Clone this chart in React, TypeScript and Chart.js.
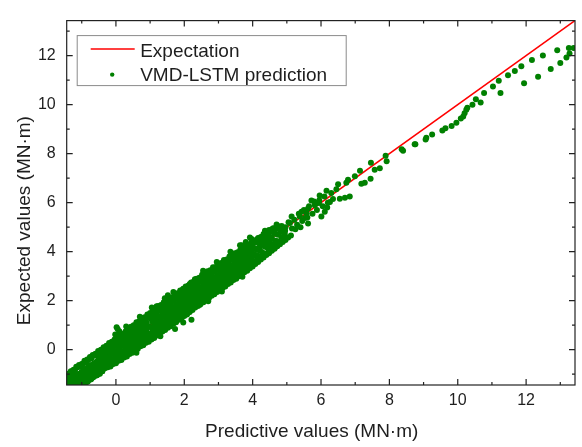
import { useEffect, useRef } from 'react';
import { Chart, registerables } from 'chart.js';
Chart.register(...registerables);

const axisMin = -1.44;
const axisMax = 13.43;
const majorTicks = [0, 2, 4, 6, 8, 10, 12];
const minorTicks = [-1, 1, 3, 5, 7, 9, 11, 13];
const xTitle = 'Predictive values (MN·m)';
const yTitle = 'Expected values (MN·m)';
const lineLabel = 'Expectation';
const pointLabel = 'VMD-LSTM prediction';

// y = x reference line end points
const expectationX = [-1.44, 13.43];
const expectationY = [-1.44, 13.43];

// [predictive, expected] pairs
const bandLow: [number, number][] = [
  [-1.44, -1.05], [-1.43, -1.10], [-1.41, -1.22], [-1.42, -1.40], [-1.40, -1.30], [-1.38, -1.42], [-1.35, -1.20],
  [-1.33, -1.35], [-1.30, -1.43], [-1.28, -1.15], [-1.25, -1.28], [-1.22, -1.40], [-1.20, -1.05], [-1.18, -1.22],
  [-1.15, -1.35], [-1.12, -1.10], [-1.10, -1.42], [-1.08, -0.98], [-1.05, -1.25], [-1.03, -1.38], [-1.00, -0.90],
  [-0.98, -1.12], [-0.96, -1.30], [-0.94, -0.85], [-0.92, -1.05], [-0.90, -1.42], [-0.88, -0.78], [-0.86, -1.18],
  [-0.84, -0.95], [-0.82, -1.30], [-0.80, -0.70], [-0.78, -1.05], [-0.76, -0.88], [-0.74, -1.22], [-0.72, -0.62],
  [-0.70, -0.98], [-0.68, -0.80], [-0.66, -1.12], [-0.64, -0.55], [-0.62, -0.92], [-0.60, -0.72], [-0.58, -1.05],
  [-0.56, -0.48], [-0.54, -0.85], [-0.52, -0.65], [-0.50, -0.98], [-0.47, -0.65], [-0.47, -0.98],
];

const bandMid: [number, number][] = [
  [-0.48, -0.40], [-0.46, -0.78], [-0.44, -0.25], [-0.42, -0.60], [-0.40, -0.88], [-0.38, -0.30], [-0.36, -0.52],
  [-0.34, -0.72], [-0.32, -0.15], [-0.30, -0.45], [-0.28, -0.65], [-0.26, -0.08], [-0.24, -0.35], [-0.22, -0.58],
  [-0.20, -0.02], [-0.18, -0.25], [-0.16, -0.48], [-0.14, 0.08], [-0.12, -0.18], [-0.10, -0.42], [-0.08, 0.15],
  [-0.06, -0.10], [-0.04, -0.35], [-0.02, 0.22], [0.00, -0.05], [0.02, -0.28], [0.04, 0.30], [0.06, 0.02],
  [0.08, -0.22], [0.10, 0.38], [0.12, 0.10], [0.14, -0.15], [0.16, 0.25], [0.18, -0.05], [0.20, 0.45],
  [0.22, 0.18], [0.24, -0.10], [0.26, 0.32], [0.28, 0.05], [0.30, 0.55], [0.32, 0.25], [0.34, 0.00],
  [0.36, 0.42], [0.38, 0.12], [0.40, 0.62], [0.42, 0.30], [0.44, 0.08], [0.46, 0.50], [0.48, 0.20],
  [0.50, 0.72], [0.52, 0.38], [0.54, 0.15], [0.56, 0.60], [0.58, 0.28], [0.60, 0.80], [0.62, 0.45],
  [0.64, 0.22], [0.66, 0.68], [0.68, 0.35], [0.70, 0.90], [0.72, 0.52], [0.74, 0.30], [0.76, 0.78],
  [0.78, 0.45], [0.80, 0.98], [0.82, 0.62], [0.84, 0.38], [0.86, 0.85], [0.88, 0.55], [0.90, 1.08],
  [0.92, 0.70], [0.94, 0.48], [0.96, 0.95], [0.98, 0.62], [0.02, 0.92], [0.05, 0.85], [-0.02, 0.62], [0.10, 0.75],
];

const bandUpper: [number, number][] = [
  [1.00, 1.28], [1.02, 0.92], [1.04, 0.65], [1.06, 1.15], [1.08, 0.82], [1.10, 1.40], [1.12, 1.00], [1.14, 0.76],
  [1.16, 1.27], [1.18, 0.90], [1.20, 1.46], [1.22, 1.13], [1.24, 0.84], [1.26, 1.36], [1.28, 1.03], [1.30, 1.60],
  [1.32, 1.20], [1.34, 0.96], [1.36, 1.44], [1.38, 1.12], [1.40, 1.70], [1.42, 1.33], [1.44, 1.04], [1.46, 1.56],
  [1.48, 1.22], [1.50, 1.77], [1.52, 1.41], [1.54, 1.16], [1.56, 1.66], [1.58, 1.31], [1.60, 1.90], [1.62, 1.52],
  [1.64, 1.24], [1.66, 1.74], [1.68, 1.43], [1.70, 1.99], [1.72, 1.61], [1.74, 1.36], [1.76, 1.86], [1.78, 1.53],
  [1.80, 2.08], [1.82, 1.73], [1.84, 1.44], [1.86, 1.96], [1.88, 1.62], [1.90, 2.19], [1.92, 1.81], [1.94, 1.56],
  [1.96, 2.05], [1.98, 1.72], [2.00, 2.29], [2.02, 1.92], [2.04, 1.63], [2.06, 2.14], [2.08, 1.83], [2.10, 2.39],
  [2.12, 2.01], [2.14, 1.76], [2.16, 2.26], [2.18, 1.92], [2.20, 2.47], [2.22, 2.12], [2.24, 1.84], [2.26, 2.36],
  [2.28, 2.03], [2.30, 2.57], [2.32, 2.21], [2.34, 1.96], [2.36, 2.44], [2.38, 2.12], [2.40, 2.68], [2.42, 2.31],
  [2.44, 2.06], [2.46, 2.55], [2.48, 2.23],
  [2.50, 2.78], [2.52, 2.42], [2.54, 2.15], [2.56, 2.65], [2.58, 2.32], [2.60, 2.88], [2.62, 2.52], [2.64, 2.25],
  [2.66, 2.75], [2.68, 2.42], [2.70, 2.98], [2.72, 2.62], [2.74, 2.35], [2.76, 2.85], [2.78, 2.52], [2.80, 3.08],
  [2.82, 2.72], [2.84, 2.45], [2.86, 2.95], [2.88, 2.62], [2.90, 3.18], [2.92, 2.82], [2.94, 2.55], [2.96, 3.05],
  [2.98, 2.72], [3.00, 3.28], [3.02, 2.92], [3.04, 2.65], [3.06, 3.15], [3.08, 2.82], [3.10, 3.38], [3.12, 3.02],
  [3.14, 2.75], [3.16, 3.25], [3.18, 2.92], [3.20, 3.48], [3.22, 3.12], [3.24, 2.85], [3.26, 3.35], [3.28, 3.02],
  [3.30, 3.58], [3.32, 3.22], [3.34, 2.95], [3.36, 3.45], [3.38, 3.12], [3.40, 3.68], [3.42, 3.32], [3.44, 3.05],
  [3.46, 3.55], [3.48, 3.22], [3.50, 3.78], [3.52, 3.42], [3.54, 3.15], [3.56, 3.65], [3.58, 3.32], [3.60, 3.88],
  [3.62, 3.52], [3.64, 3.25], [3.66, 3.75], [3.68, 3.42], [3.70, 3.98], [3.72, 3.62], [3.74, 3.35], [3.76, 3.85],
  [3.78, 3.52], [3.80, 4.05], [3.82, 3.72], [3.84, 3.45], [3.86, 3.95], [3.88, 3.62], [3.90, 4.15], [3.92, 3.82],
  [3.94, 3.55], [3.96, 4.05], [3.98, 3.72],
  [4.00, 4.25], [4.04, 3.90], [4.08, 4.12], [4.12, 3.85], [4.16, 4.35], [4.20, 4.05], [4.24, 4.30], [4.28, 3.98],
  [4.32, 4.52], [4.36, 4.20], [4.40, 4.45], [4.44, 4.15], [4.48, 4.62], [4.52, 4.32], [4.56, 4.58], [4.60, 4.30],
  [4.64, 4.75], [4.68, 4.45], [4.72, 4.70], [4.76, 4.42], [4.80, 4.88], [4.84, 4.60], [4.88, 4.82], [4.92, 4.55],
  [4.96, 5.00],
];

const bandCoreFill: [number, number][] = [
  [-1.20, -1.02], [-1.15, -1.33], [-1.10, -1.10], [-1.05, -1.37], [-1.00, -0.64], [-0.95, -1.43], [-0.90, -0.80],
  [-0.85, -0.90], [-0.80, -0.62], [-0.75, -0.93], [-0.70, -0.70], [-0.65, -0.97], [-0.60, -0.24], [-0.55, -1.03],
  [-0.50, -0.40], [-0.45, -0.50], [-0.40, -0.22], [-0.35, -0.53], [-0.30, -0.30], [-0.25, -0.57], [-0.20, 0.16],
  [-0.15, -0.63], [-0.10, 0.00], [-0.05, -0.10], [0.00, 0.18], [0.05, -0.13], [0.10, 0.10], [0.15, -0.17],
  [0.20, 0.56], [0.25, -0.23], [0.30, 0.40], [0.35, 0.30], [0.40, 0.58], [0.45, 0.27], [0.50, 0.50], [0.55, 0.23],
  [0.60, 0.96], [0.65, 0.17], [0.70, 0.80], [0.75, 0.70], [0.80, 0.98], [0.85, 0.67], [0.90, 0.90], [0.95, 0.63],
  [1.00, 1.36], [1.05, 0.57], [1.10, 1.20], [1.15, 1.10], [1.20, 1.38], [1.25, 1.07], [1.30, 1.30], [1.35, 1.03],
  [1.40, 1.76], [1.45, 0.97], [1.50, 1.60], [1.55, 1.50], [1.60, 1.78], [1.65, 1.47], [1.70, 1.70], [1.75, 1.43],
  [1.80, 2.16], [1.85, 1.37], [1.90, 2.00], [1.95, 1.90], [2.00, 2.18], [2.05, 1.87], [2.10, 2.10], [2.15, 1.83],
  [2.20, 2.56], [2.25, 1.77], [2.30, 2.40], [2.35, 2.30], [2.40, 2.58], [2.45, 2.27], [2.50, 2.50], [2.55, 2.23],
  [2.60, 2.96], [2.65, 2.17], [2.70, 2.80], [2.75, 2.70], [2.80, 2.98], [2.85, 2.67], [2.90, 2.90], [2.95, 2.63],
  [3.00, 3.36], [3.05, 2.57], [3.10, 3.20], [3.15, 3.10], [3.20, 3.38], [3.25, 3.07], [3.30, 3.30], [3.35, 3.03],
  [3.40, 3.76], [3.45, 2.97], [3.50, 3.60], [3.55, 3.50], [3.60, 3.78], [3.65, 3.47], [3.70, 3.70], [3.75, 3.43],
  [3.80, 4.16], [3.85, 3.37], [3.90, 4.00], [3.95, 3.90], [4.00, 4.18], [4.05, 3.87], [4.10, 4.10], [4.15, 3.83],
  [4.20, 4.56], [4.25, 3.77], [4.30, 4.40], [4.35, 4.30], [4.40, 4.58], [4.45, 4.27], [4.50, 4.50], [4.55, 4.23],
  [4.60, 4.96],
];

const bandTopEdge: [number, number][] = [
  [-1.40, -0.98], [-1.32, -0.88], [-1.24, -0.82], [-1.16, -0.70], [-1.08, -0.62], [-1.00, -0.58], [-0.92, -0.45],
  [-0.84, -0.40], [-0.76, -0.30], [-0.68, -0.22], [-0.60, -0.16], [-0.52, -0.05], [-0.44, 0.00], [-0.36, 0.10],
  [-0.28, 0.16], [-0.20, 0.27], [-0.12, 0.32], [-0.04, 0.42], [0.04, 0.48], [0.12, 0.58], [0.20, 0.64],
  [0.28, 0.74], [0.36, 0.82], [0.44, 0.94], [0.52, 1.00], [0.60, 1.12], [0.68, 1.16], [0.76, 1.28], [0.84, 1.32],
  [0.92, 1.44], [1.00, 1.50], [1.08, 1.62], [1.16, 1.66], [1.24, 1.78], [1.32, 1.82], [1.40, 1.94], [1.48, 1.98],
  [1.56, 2.10], [1.64, 2.14], [1.72, 2.26], [1.80, 2.30], [1.88, 2.42], [1.96, 2.46], [2.04, 2.58], [2.12, 2.62],
  [2.20, 2.74], [2.28, 2.78], [2.36, 2.90], [2.44, 2.94], [2.52, 3.06], [2.60, 3.08], [2.68, 3.20], [2.76, 3.24],
  [2.84, 3.36], [2.92, 3.38], [3.00, 3.50], [3.08, 3.54], [3.16, 3.66], [3.24, 3.68], [3.32, 3.80], [3.40, 3.84],
  [3.48, 3.94], [3.56, 3.98], [3.64, 4.08], [3.72, 4.10], [3.80, 4.22], [3.88, 4.24], [3.96, 4.36], [4.04, 4.38],
  [4.12, 4.50], [4.20, 4.52], [4.28, 4.62], [4.36, 4.66], [4.44, 4.76], [4.52, 4.80], [4.60, 4.90], [4.68, 4.94],
  [4.76, 5.04],
  [0.30, 0.95], [0.70, 1.35], [1.05, 1.72], [1.52, 2.22], [2.55, 3.22], [2.95, 3.58], [3.35, 4.00], [3.80, 4.40],
];

const bandTopFill: [number, number][] = [
  [-1.36, -1.00], [-1.28, -0.88], [-1.20, -0.84], [-1.12, -0.72], [-1.04, -0.68], [-0.96, -0.56], [-0.88, -0.52],
  [-0.80, -0.40], [-0.72, -0.36], [-0.64, -0.24], [-0.56, -0.20], [-0.48, -0.08], [-0.40, -0.04], [-0.32, 0.08],
  [-0.24, 0.12], [-0.16, 0.24], [-0.08, 0.28], [0.00, 0.40], [0.08, 0.44], [0.16, 0.56], [0.24, 0.60],
  [0.32, 0.72], [0.40, 0.76], [0.48, 0.88], [0.56, 0.92], [0.64, 1.04], [0.72, 1.08], [0.80, 1.20], [0.88, 1.24],
  [0.96, 1.36], [1.04, 1.40], [1.12, 1.52], [1.20, 1.56], [1.28, 1.68], [1.36, 1.72], [1.44, 1.84], [1.52, 1.88],
  [1.60, 2.00], [1.68, 2.04], [1.76, 2.16], [1.84, 2.20], [1.92, 2.32], [2.00, 2.36], [2.08, 2.48], [2.16, 2.52],
  [2.24, 2.64], [2.32, 2.68], [2.40, 2.80], [2.48, 2.84], [2.56, 2.96], [2.64, 3.00], [2.72, 3.12], [2.80, 3.16],
  [2.88, 3.28], [2.96, 3.32], [3.04, 3.44], [3.12, 3.48], [3.20, 3.60], [3.28, 3.64], [3.36, 3.76], [3.44, 3.80],
  [3.52, 3.92], [3.60, 3.96], [3.68, 4.08], [3.76, 4.12], [3.84, 4.24], [3.92, 4.28], [4.00, 4.40], [4.08, 4.44],
  [4.16, 4.56], [4.24, 4.60], [4.32, 4.72], [4.40, 4.76], [4.48, 4.88], [4.56, 4.92],
];

const bandBottomEdge: [number, number][] = [
  [-1.20, -1.44], [-1.12, -1.38], [-1.04, -1.33], [-0.96, -1.22], [-0.88, -1.16], [-0.80, -1.08], [-0.72, -1.02],
  [-0.64, -0.92], [-0.56, -0.86], [-0.48, -0.78], [-0.40, -0.72], [-0.32, -0.62], [-0.24, -0.56], [-0.16, -0.68],
  [-0.08, -0.58], [0.00, -0.55], [0.08, -0.45], [0.16, -0.42], [0.24, -0.32], [0.32, -0.28], [0.40, -0.18],
  [0.48, -0.12], [0.56, -0.02], [0.64, 0.04], [0.72, 0.14], [0.80, 0.18], [0.88, 0.28], [0.96, 0.32],
  [1.04, 0.42], [1.12, 0.48], [1.20, 0.58], [1.28, 0.64], [1.36, 0.74], [1.44, 0.80], [1.52, 0.90], [1.60, 0.96],
  [1.68, 1.06], [1.76, 1.12], [1.84, 1.22], [1.92, 1.28], [2.00, 1.38], [2.08, 1.44], [2.16, 1.54], [2.24, 1.62],
  [2.32, 1.72], [2.40, 1.78], [2.48, 1.88], [2.56, 1.94], [2.64, 2.04], [2.72, 2.10], [2.80, 2.20], [2.88, 2.26],
  [2.96, 2.36], [3.04, 2.42], [3.12, 2.52], [3.20, 2.58], [3.28, 2.68], [3.36, 2.74], [3.44, 2.84], [3.52, 2.90],
  [3.60, 3.00], [3.68, 3.06], [3.76, 3.16], [3.84, 3.22], [3.92, 3.32], [4.00, 3.40], [4.08, 3.50], [4.16, 3.58],
  [4.24, 3.68], [4.32, 3.76], [4.40, 3.86], [4.48, 3.94], [4.56, 4.04], [4.64, 4.12], [4.72, 4.22], [4.80, 4.30],
  [4.88, 4.40], [4.96, 4.48], [5.04, 4.58], [5.12, 4.66],
  [0.60, -0.12], [1.30, 0.55], [2.70, 1.98], [3.10, 2.38], [3.70, 2.98],
];

const bandBottomFill: [number, number][] = [
  [-0.96, -1.40], [-0.88, -1.36], [-0.80, -1.24], [-0.72, -1.20], [-0.64, -1.08], [-0.56, -1.04], [-0.48, -0.92],
  [-0.40, -0.88], [-0.32, -0.76], [-0.24, -0.72], [-0.16, -0.60], [-0.08, -0.56], [0.00, -0.44], [0.04, -0.44],
  [0.12, -0.36], [0.20, -0.28], [0.28, -0.20], [0.36, -0.12], [0.44, -0.04], [0.52, 0.04], [0.60, 0.12],
  [0.68, 0.20], [0.76, 0.28], [0.84, 0.36], [0.92, 0.44], [1.00, 0.52], [1.08, 0.60], [1.16, 0.68], [1.24, 0.76],
  [1.32, 0.84], [1.40, 0.92], [1.48, 1.00], [1.56, 1.08], [1.64, 1.16], [1.72, 1.24], [1.80, 1.32], [1.88, 1.40],
  [1.96, 1.48], [2.04, 1.56], [2.12, 1.64], [2.20, 1.72], [2.28, 1.80], [2.36, 1.88], [2.44, 1.96], [2.52, 2.04],
  [2.60, 2.12], [2.68, 2.20], [2.76, 2.28], [2.84, 2.36], [2.92, 2.44], [3.00, 2.52], [3.08, 2.60], [3.16, 2.68],
  [3.24, 2.76], [3.32, 2.84], [3.40, 2.92], [3.48, 3.00], [3.56, 3.08], [3.64, 3.16], [3.72, 3.24], [3.80, 3.32],
  [3.88, 3.40], [3.96, 3.48], [4.04, 3.56], [4.12, 3.64], [4.20, 3.72], [4.28, 3.80], [4.36, 3.88], [4.44, 3.96],
  [4.52, 4.04], [4.60, 4.12], [4.68, 4.20],
];

const outliers: [number, number][] = [
  [1.68, 2.36], [1.97, 2.49], [2.16, 2.68], [2.31, 2.88], [2.60, 3.14], [1.19, 1.77], [1.43, 2.10],
  [2.46, 1.83], [2.11, 1.51], [2.21, 1.22], [1.97, 1.11], [1.73, 0.85],
  [3.38, 3.86], [3.63, 4.26], [3.92, 4.58], [3.28, 2.88], [3.48, 3.40], [3.92, 3.54], [4.65, 4.32], [4.21, 4.06],
];

const midTail: [number, number][] = [
  [8.76, 8.38], [8.40, 8.12], [7.89, 7.92], [7.92, 7.69], [7.72, 7.40], [7.57, 7.34], [7.46, 7.63], [7.45, 6.98],
  [7.18, 6.77], [7.28, 6.81], [7.14, 7.30], [6.99, 7.08], [6.79, 6.94], [6.74, 6.81], [6.50, 6.75], [6.45, 6.55],
  [6.84, 6.25], [6.70, 6.20], [6.55, 6.16], [6.26, 6.03], [6.16, 6.49], [5.96, 6.29], [5.94, 5.99], [6.18, 5.80],
  [6.11, 5.63], [6.01, 5.44], [5.82, 5.90], [5.72, 6.09], [5.62, 5.76], [5.58, 5.57], [5.43, 5.63], [5.53, 5.37],
  [5.62, 5.15], [5.38, 5.44], [5.14, 5.44], [5.09, 5.17], [4.84, 4.98], [4.94, 4.72], [4.70, 5.11], [4.60, 4.91],
  [4.36, 4.85], [4.31, 4.58], [3.97, 4.52], [4.55, 4.52], [4.45, 4.26], [4.21, 4.19], [3.92, 3.99], [4.06, 3.86],
  [3.72, 3.73], [3.68, 4.26],
  [4.62, 4.95], [4.75, 4.70], [4.85, 5.05], [4.95, 4.85], [5.05, 5.20], [5.15, 4.95], [5.22, 5.30], [5.30, 5.10],
  [5.35, 5.55], [5.45, 5.25], [5.50, 5.70], [5.60, 5.40], [5.65, 5.85], [5.75, 5.55], [5.80, 6.05], [5.88, 5.70],
  [5.95, 6.10], [6.05, 5.85], [6.10, 6.25], [6.20, 6.00], [6.30, 6.40], [6.35, 6.15], [5.25, 4.92], [5.40, 5.00],
];

const upperTail: [number, number][] = [
  [8.36, 8.18], [8.74, 8.38], [9.06, 8.58], [9.08, 8.65], [9.25, 8.78], [9.55, 8.95], [9.64, 9.04], [9.82, 9.13],
  [9.96, 9.26], [10.09, 9.43], [10.16, 9.52], [10.20, 9.65], [10.25, 9.79], [10.28, 9.87], [10.43, 10.0],
  [10.53, 10.22], [10.67, 10.09], [10.77, 10.48], [11.03, 10.74], [11.20, 10.98], [11.25, 10.48], [11.47, 11.2],
  [11.67, 11.37], [11.86, 11.57], [11.94, 10.87], [12.17, 11.82], [12.35, 11.14], [12.49, 12.01], [12.72, 11.46],
  [12.91, 12.22], [13.00, 11.70], [13.18, 11.92], [13.25, 12.31], [13.27, 12.09], [13.39, 12.31],
];

const textColor = '#1e1e1e';
const fontFamily = '"Liberation Sans", Arial, sans-serif';

const decorPlugin = {
  id: 'decor',
  afterDatasetsDraw(chart: any) {
    const { ctx, chartArea: a, scales } = chart;
    const xs = scales.x;
    const ys = scales.y;
    ctx.save();
    ctx.strokeStyle = '#222';
    ctx.lineWidth = 1.2;
    ctx.strokeRect(a.left, a.top, a.right - a.left, a.bottom - a.top);
    ctx.beginPath();
    const drawTicks = (vals: number[], len: number) => {
      for (const v of vals) {
        const px = xs.getPixelForValue(v);
        ctx.moveTo(px, a.bottom); ctx.lineTo(px, a.bottom - len);
        ctx.moveTo(px, a.top); ctx.lineTo(px, a.top + len);
        const py = ys.getPixelForValue(v);
        ctx.moveTo(a.left, py); ctx.lineTo(a.left + len, py);
        ctx.moveTo(a.right, py); ctx.lineTo(a.right - len, py);
      }
    };
    drawTicks(majorTicks, 6);
    drawTicks(minorTicks, 3);
    ctx.stroke();
    ctx.restore();
  },
  afterDraw(chart: any) {
    const { ctx, chartArea: a } = chart;
    ctx.save();
    // axis titles
    ctx.fillStyle = textColor;
    ctx.font = `19px ${fontFamily}`;
    ctx.textAlign = 'center';
    ctx.textBaseline = 'alphabetic';
    ctx.fillText(xTitle, a.left + 245, a.bottom + 52);
    ctx.save();
    ctx.translate(29.5, a.top + 200);
    ctx.rotate(-Math.PI / 2);
    ctx.fillText(yTitle, 0, 0);
    ctx.restore();
    // legend
    const lx = a.left + 10;
    const ly = a.top + 14.5;
    ctx.strokeStyle = '#8a8a8a';
    ctx.lineWidth = 1;
    ctx.strokeRect(lx + 0.5, ly + 0.5, 269, 50);
    ctx.strokeStyle = '#ff0000';
    ctx.lineWidth = 1.5;
    ctx.beginPath();
    ctx.moveTo(lx + 14, ly + 14);
    ctx.lineTo(lx + 58, ly + 14);
    ctx.stroke();
    ctx.fillStyle = '#008000';
    ctx.beginPath();
    ctx.arc(lx + 35.5, ly + 39.5, 2.2, 0, Math.PI * 2);
    ctx.fill();
    ctx.fillStyle = textColor;
    ctx.textAlign = 'left';
    ctx.fillText(chart.data.datasets[0].label, lx + 63.5, ly + 21.5);
    ctx.fillText(chart.data.datasets[1].label, lx + 63.5, ly + 45.5);
    ctx.restore();
  },
};

export default function App() {
  const ref = useRef<HTMLCanvasElement>(null);
  useEffect(() => {
    document.body.style.margin = '0';
    const toPts = (arr: [number, number][]) => arr.map(([x, y]) => ({ x, y }));
    const points = [
      ...toPts(bandLow), ...toPts(bandMid), ...toPts(bandUpper), ...toPts(bandCoreFill), ...toPts(bandTopEdge),
      ...toPts(bandTopFill), ...toPts(bandBottomEdge), ...toPts(bandBottomFill), ...toPts(outliers),
      ...toPts(midTail), ...toPts(upperTail),
    ];
    const linePts = expectationX.map((x, i) => ({ x, y: expectationY[i] }));
    const chart = new Chart(ref.current!, {
      type: 'scatter',
      data: {
        datasets: [
          {
            type: 'line',
            label: lineLabel,
            data: linePts,
            borderColor: '#ff0000',
            borderWidth: 1.6,
            pointRadius: 0,
            fill: false,
            order: 2,
            clip: 0,
          } as any,
          {
            label: pointLabel,
            data: points,
            backgroundColor: '#008000',
            borderColor: '#008000',
            borderWidth: 0,
            pointRadius: 3,
            order: 1,
            clip: 0,
          },
        ],
      },
      options: {
        animation: false,
        responsive: false,
        layout: { padding: { left: 0, top: 6.7, right: 7, bottom: 0 } },
        plugins: { legend: { display: false }, tooltip: { enabled: false } },
        scales: {
          x: {
            type: 'linear',
            min: axisMin,
            max: axisMax,
            grid: { display: false, drawTicks: false },
            border: { display: false },
            afterBuildTicks: (s: any) => { s.ticks = majorTicks.map((v) => ({ value: v })); },
            afterFit: (s: any) => { s.height = 62; },
            ticks: { padding: 6, color: textColor, font: { size: 16, family: fontFamily }, maxRotation: 0 },
          },
          y: {
            type: 'linear',
            min: axisMin,
            max: axisMax,
            grid: { display: false, drawTicks: false },
            border: { display: false },
            afterBuildTicks: (s: any) => { s.ticks = majorTicks.map((v) => ({ value: v })); },
            afterFit: (s: any) => { s.width = 66.7; },
            ticks: { padding: 11, color: textColor, font: { size: 16, family: fontFamily } },
          },
        },
      },
      plugins: [decorPlugin],
    });
    return () => chart.destroy();
  }, []);
  return (
    <div style={{ width: 582, height: 447, background: '#fff' }}>
      <canvas ref={ref} width={582} height={447} />
    </div>
  );
}
